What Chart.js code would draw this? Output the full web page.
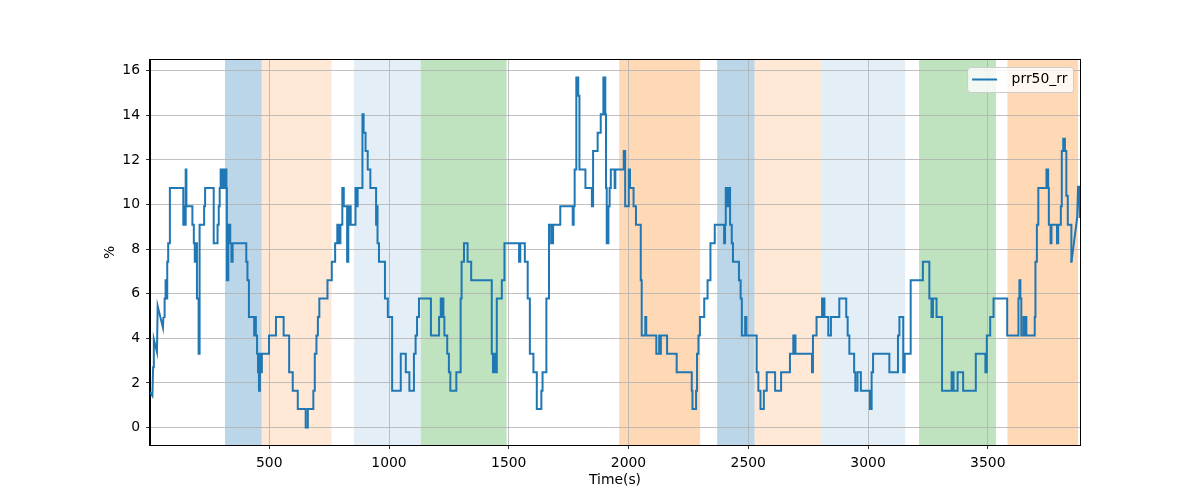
<!DOCTYPE html>
<html>
<head>
<meta charset="utf-8">
<script src="https://cdn.jsdelivr.net/npm/chart.js@4/dist/chart.umd.min.js"></script>
<style>
  html, body { margin: 0; padding: 0; background: #fff; }
  canvas { display: block; }
</style>
</head>
<body>
<canvas id="prrChart" width="1200" height="500"></canvas>
<script>
// first seconds, before the rolling window fills up
const headTime = [2, 12, 15, 18, 31, 34, 56, 58];
const headValue = [1.60, 1.42, 2.70, 3.96, 3.39, 5.45, 4.48, 4.96];

// stepped part: each entry is the time where a new level starts
const stepTime = [
  58, 63, 67, 70, 74, 78, 85, 141, 145, 148,
  151, 154, 179, 185, 189, 192, 198, 205, 209, 228,
  232, 268, 284, 289, 293, 297, 301, 304, 308, 311,
  315, 318, 321, 323, 329, 337, 342, 347, 404, 409,
  415, 437, 441, 444, 449, 453, 457, 461, 466, 469,
  499, 528, 560, 583, 598, 619, 652, 661, 684, 690,
  697, 703, 709, 743, 761, 775, 784, 788, 791, 794,
  797, 805, 811, 825, 830, 834, 837, 840, 860, 866,
  869, 889, 894, 902, 911, 922, 946, 948, 952, 958,
  983, 995, 1013, 1049, 1070, 1085, 1104, 1111, 1117, 1125,
  1175, 1209, 1216, 1220, 1223, 1227, 1231, 1243, 1250, 1256,
  1281, 1299, 1303, 1313, 1328, 1343, 1429, 1434, 1439, 1443,
  1450, 1471, 1482, 1543, 1548, 1567, 1579, 1588, 1603, 1617,
  1636, 1641, 1657, 1668, 1677, 1685, 1715, 1767, 1771, 1775,
  1782, 1785, 1787, 1790, 1795, 1820, 1847, 1852, 1871, 1884,
  1895, 1903, 1906, 1909, 1916, 1921, 1926, 1942, 1945, 1980,
  1986, 2001, 2006, 2021, 2031, 2051, 2055, 2070, 2074, 2116,
  2128, 2131, 2135, 2161, 2201, 2264, 2267, 2282, 2286, 2292,
  2298, 2316, 2330, 2342, 2360, 2399, 2403, 2406, 2409, 2412,
  2415, 2418, 2424, 2431, 2436, 2461, 2468, 2473, 2487, 2492,
  2535, 2542, 2551, 2565, 2577, 2612, 2637, 2674, 2688, 2691,
  2694, 2697, 2766, 2770, 2785, 2808, 2812, 2815, 2818, 2834,
  2845, 2880, 2909, 2915, 2922, 2942, 2947, 2956, 2970, 3008,
  3015, 3021, 3089, 3125, 3131, 3147, 3153, 3178, 3229, 3256,
  3265, 3271, 3286, 3309, 3349, 3357, 3374, 3397, 3450, 3490,
  3496, 3510, 3524, 3581, 3628, 3632, 3636, 3640, 3649, 3653,
  3657, 3661, 3696, 3699, 3705, 3711, 3745, 3752, 3755, 3762,
  3766, 3789, 3794, 3805, 3809, 3815, 3822, 3828, 3834, 3849
];
const stepValue = [
  4.96, 5.79, 6.61, 5.79, 7.44, 8.26, 10.74, 9.09, 9.92, 9.09,
  11.57, 9.92, 9.09, 8.26, 7.44, 8.26, 5.79, 3.31, 9.09, 9.92,
  10.74, 8.26, 9.09, 9.92, 10.74, 11.57, 10.74, 11.57, 10.74, 11.57,
  10.74, 11.57, 10.74, 6.61, 9.09, 8.26, 7.44, 8.26, 7.44, 6.61,
  4.96, 4.13, 4.96, 4.13, 3.31, 2.48, 1.65, 3.31, 2.48, 3.31,
  4.13, 4.96, 4.13, 2.48, 1.65, 0.83, 0, 0.83, 1.65, 3.31,
  4.13, 4.96, 5.79, 6.61, 7.44, 8.26, 9.09, 8.26, 9.09, 8.26,
  9.09, 10.74, 9.92, 7.44, 9.92, 9.09, 9.92, 9.09, 10.74, 9.92,
  10.74, 14.05, 13.22, 12.40, 11.57, 10.74, 9.09, 9.92, 8.26, 7.44,
  5.79, 4.96, 1.65, 3.31, 2.48, 1.65, 3.31, 4.13, 4.96, 5.79,
  4.13, 4.96, 5.79, 4.96, 5.79, 4.96, 4.13, 3.31, 2.48, 1.65,
  2.48, 5.79, 7.44, 8.26, 7.44, 6.61, 3.31, 2.48, 3.31, 2.48,
  5.79, 6.61, 8.26, 7.44, 8.26, 7.44, 5.79, 3.31, 2.48, 0.83,
  1.65, 2.48, 5.79, 9.09, 8.26, 9.09, 9.92, 9.09, 9.92, 11.57,
  15.70, 14.88, 15.70, 14.88, 11.57, 10.74, 9.92, 12.40, 13.22, 14.05,
  15.70, 14.05, 10.74, 8.26, 9.92, 10.74, 11.57, 10.74, 11.57, 12.40,
  9.92, 11.57, 10.74, 9.92, 9.09, 6.61, 4.13, 4.96, 4.13, 3.31,
  4.13, 3.31, 4.13, 3.31, 2.48, 1.65, 0.83, 1.65, 3.31, 4.13,
  4.96, 5.79, 6.61, 8.26, 9.09, 8.26, 9.09, 10.74, 9.92, 10.74,
  9.92, 10.74, 9.09, 8.26, 7.44, 6.61, 5.79, 4.13, 4.96, 4.13,
  2.48, 1.65, 0.83, 1.65, 2.48, 1.65, 2.48, 3.31, 4.13, 3.31,
  4.13, 3.31, 2.48, 4.13, 4.96, 5.79, 4.96, 5.79, 4.96, 4.13,
  4.96, 5.79, 4.96, 4.13, 3.31, 2.48, 1.65, 2.48, 1.65, 0.83,
  2.48, 3.31, 2.48, 4.13, 4.96, 2.48, 3.31, 6.61, 7.44, 5.79,
  4.96, 5.79, 4.96, 1.65, 2.48, 1.65, 2.48, 1.65, 3.31, 2.48,
  4.13, 4.96, 5.79, 4.13, 5.79, 6.61, 5.79, 4.13, 4.96, 4.13,
  4.96, 4.13, 4.96, 7.44, 9.09, 10.74, 11.57, 10.74, 9.09, 8.26,
  9.09, 8.26, 9.09, 9.92, 12.40, 12.95, 12.40, 10.40, 9.10, 7.40
];

// last seconds of the recording
const tailTime = [3849, 3873, 3877, 3882, 3884];
const tailValue = [7.40, 9.40, 10.80, 10.80, 9.40];

const xTickValues = [500, 1000, 1500, 2000, 2500, 3000, 3500];
const yTickValues = [0, 2, 4, 6, 8, 10, 12, 14, 16];

// shaded phases
const spanStart = [315, 468, 854, 1133, 1961, 2370, 2526, 2803, 3213, 3582];
const spanEnd = [468, 760, 1133, 1491, 2299, 2526, 2803, 3155, 3534, 3877];
const spanPhase = ['p1', 'p2', 'p3', 'p4', 'p5', 'p1', 'p2', 'p3', 'p4', 'p5'];

const phaseColors = {
  p1: 'rgba(31, 119, 180, 0.3)',
  p2: 'rgba(255, 127, 14, 0.17)',
  p3: 'rgba(31, 119, 180, 0.12)',
  p4: 'rgba(44, 160, 44, 0.3)',
  p5: 'rgba(255, 127, 14, 0.3)'
};

const FONT = 'DejaVu Sans';
const LINE_COLOR = '#1f77b4';

const toPoints = (xs, ys) => xs.map((x, i) => ({ x: x, y: ys[i] }));

const lineStyle = {
  borderColor: LINE_COLOR,
  backgroundColor: LINE_COLOR,
  borderWidth: 2,
  pointRadius: 0,
  tension: 0,
  fill: false
};

const spansPlugin = {
  id: 'spans',
  beforeDraw(chart) {
    const { ctx, chartArea, scales } = chart;
    ctx.save();
    ctx.fillStyle = '#fff';
    ctx.fillRect(0, 0, chart.width, chart.height);
    spanStart.forEach((start, i) => {
      const left = scales.x.getPixelForValue(start);
      const right = scales.x.getPixelForValue(spanEnd[i]);
      ctx.fillStyle = phaseColors[spanPhase[i]];
      ctx.fillRect(left, chartArea.top, right - left, chartArea.bottom - chartArea.top);
    });
    ctx.restore();
  }
};

// closes the box (top/right spines) and draws the matplotlib-like legend
const framePlugin = {
  id: 'frame',
  afterDraw(chart) {
    const { ctx, chartArea } = chart;
    ctx.save();
    ctx.strokeStyle = '#000';
    ctx.lineWidth = 1;
    ctx.strokeRect(Math.round(chartArea.left) - 0.5, Math.round(chartArea.top) - 0.5,
      Math.round(chartArea.right - chartArea.left) + 1, Math.round(chartArea.bottom - chartArea.top) + 1);

    const label = chart.data.datasets[1].label;
    ctx.font = '13.9px "' + FONT + '"';
    const textW = ctx.measureText(label).width;
    const boxW = 5.6 + 27.8 + 11.1 + textW + 5.6;
    const boxH = 25;
    const boxX = chartArea.right - 7 - boxW;
    const boxY = chartArea.top + 7;

    ctx.beginPath();
    ctx.roundRect(boxX + 0.5, boxY + 0.5, boxW, boxH, 3);
    ctx.fillStyle = 'rgba(255, 255, 255, 0.8)';
    ctx.fill();
    ctx.strokeStyle = '#cccccc';
    ctx.stroke();

    const midY = boxY + boxH / 2;
    ctx.beginPath();
    ctx.moveTo(boxX + 5, midY);
    ctx.lineTo(boxX + 30, midY);
    ctx.strokeStyle = LINE_COLOR;
    ctx.lineWidth = 2;
    ctx.stroke();

    ctx.fillStyle = '#000';
    ctx.textBaseline = 'middle';
    ctx.fillText(label, boxX + 5.6 + 27.8 + 11.1, midY);
    ctx.restore();
  }
};

const ctx = document.getElementById('prrChart').getContext('2d');

new Chart(ctx, {
  type: 'line',
  data: {
    datasets: [
      { ...lineStyle, label: 'head', data: toPoints(headTime, headValue) },
      { ...lineStyle, label: 'prr50_rr', data: toPoints(stepTime, stepValue), stepped: 'before' },
      { ...lineStyle, label: 'tail', data: toPoints(tailTime, tailValue) }
    ]
  },
  options: {
    responsive: false,
    animation: false,
    events: [],
    layout: {
      padding: { left: 98, right: 120, top: 60, bottom: 8 }
    },
    scales: {
      x: {
        type: 'linear',
        min: 2,
        max: 3885,
        afterFit: (scale) => { scale.height = 47; },
        afterBuildTicks: (scale) => { scale.ticks = xTickValues.map(v => ({ value: v })); },
        grid: {
          color: '#b0b0b0',
          lineWidth: 0.8,
          tickColor: '#000',
          tickLength: 4,
          tickWidth: 0.8
        },
        border: { display: true, color: '#000', width: 1 },
        ticks: {
          autoSkip: false,
          maxRotation: 0,
          padding: 6,
          color: '#000',
          font: { family: FONT, size: 13.9 },
          callback: (v) => String(v)
        },
        title: {
          display: true,
          text: 'Time(s)',
          color: '#000',
          font: { family: FONT, size: 13.9 },
          padding: { top: 0, bottom: 3 }
        }
      },
      y: {
        min: -0.785,
        max: 16.485,
        afterFit: (scale) => { scale.width = 52; },
        afterBuildTicks: (scale) => { scale.ticks = yTickValues.map(v => ({ value: v })); },
        grid: {
          color: '#b0b0b0',
          lineWidth: 0.8,
          tickColor: '#000',
          tickLength: 4,
          tickWidth: 0.8
        },
        border: { display: true, color: '#000', width: 1 },
        ticks: {
          autoSkip: false,
          padding: 6,
          color: '#000',
          font: { family: FONT, size: 13.9 },
          callback: (v) => String(v)
        },
        title: {
          display: true,
          text: '%',
          color: '#000',
          font: { family: FONT, size: 13.9 },
          padding: { top: 4, bottom: 0 }
        }
      }
    },
    plugins: {
      legend: { display: false },
      tooltip: { enabled: false }
    }
  },
  plugins: [spansPlugin, framePlugin]
});
</script>
</body>
</html>
